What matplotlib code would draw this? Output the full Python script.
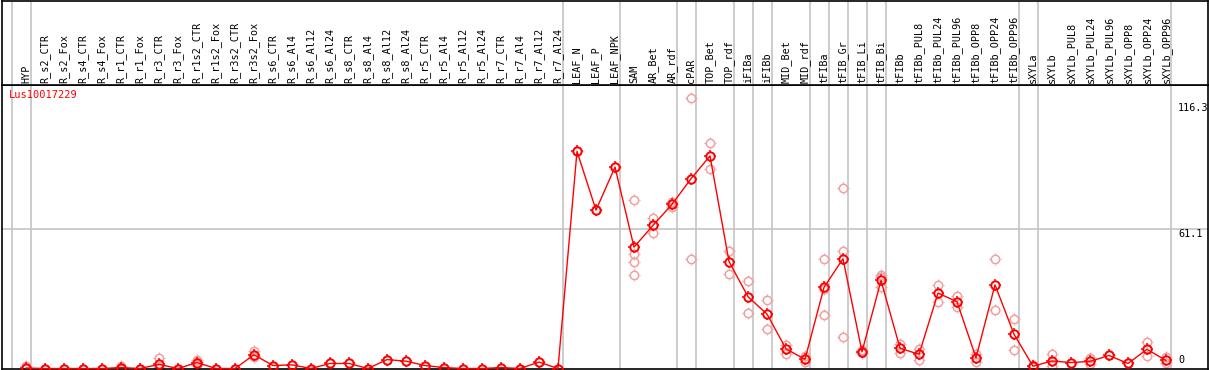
import matplotlib
matplotlib.use("Agg")
import matplotlib.pyplot as plt
from matplotlib.path import Path
from matplotlib.transforms import blended_transform_factory

labels = ["HYP", "R_s2_CTR", "R_s2_Fox", "R_s4_CTR", "R_s4_Fox", "R_r1_CTR", "R_r1_Fox",
          "R_r3_CTR", "R_r3_Fox", "R_r1s2_CTR", "R_r1s2_Fox", "R_r3s2_CTR", "R_r3s2_Fox",
          "R_s6_CTR", "R_s6_Al4", "R_s6_Al12", "R_s6_Al24", "R_s8_CTR", "R_s8_Al4",
          "R_s8_Al12", "R_s8_Al24", "R_r5_CTR", "R_r5_Al4", "R_r5_Al12", "R_r5_Al24",
          "R_r7_CTR", "R_r7_Al4", "R_r7_Al12", "R_r7_Al24", "LEAF_N", "LEAF_P", "LEAF_NPK",
          "SAM", "AR_Bet", "AR_rdf", "cPAR", "TOP_Bet", "TOP_rdf", "iFIBa", "iFIBb",
          "MID_Bet", "MID_rdf", "tFIBa", "tFIB_Gr", "tFIB_Li", "tFIB_Bi", "tFIBb",
          "tFIBb_PUL8", "tFIBb_PUL24", "tFIBb_PUL96", "tFIBb_OPP8", "tFIBb_OPP24",
          "tFIBb_OPP96", "sXYLa", "sXYLb", "sXYLb_PUL8", "sXYLb_PUL24", "sXYLb_PUL96",
          "sXYLb_OPP8", "sXYLb_OPP24", "sXYLb_OPP96"]

means = [0.2, 0, 0, 0, 0, 0.4, 0, 1.8, 0, 2.6, 0, 0, 6.0, 1.3, 1.6, 0, 2.2, 2.2, 0,
         3.9, 3.2, 1.3, 0.4, 0, 0, 0.4, 0, 2.8, 0,
         95.0, 69.3, 88.1, 53.1, 62.6, 71.8, 83.0, 93.0, 46.8, 31.4, 23.8,
         8.6, 4.0, 35.5, 48.0, 7.3, 38.5, 8.9, 6.2, 33.0, 29.2, 4.7, 36.6, 15.0,
         1.0, 3.3, 2.6, 3.1, 5.7, 2.2, 8.4, 3.5]

replicates = [[1.0, 0.0], [0], [0], [0], [0], [0.9, 0.2, 0.0], [0], [4.4, 0.6, 0.3], [0],
              [3.5, 1.4, 2.8], [0], [0], [7.6, 4.9, 5.6], [1.3], [1.6], [0], [2.2], [2.2],
              [0], [3.9], [3.2], [1.3], [0.4], [0], [0], [0.4], [0], [2.8], [0],
              [95.0], [69.3], [88.1], [73.9, 49.9, 46.7, 41.0], [65.9, 59.3, 62.6],
              [73.0, 70.7, 71.8], [118.2, 47.7], [98.8, 87.4], [51.5, 41.5], [38.3, 24.2],
              [30.1, 17.2], [10.1, 6.4], [5.3, 2.8], [48.0, 23.3, 34.9], [78.9, 51.2, 13.9],
              [7.9, 6.6], [40.7, 39.9, 35.5], [10.6, 6.9], [8.6, 3.8], [36.7, 28.9],
              [31.7, 26.7], [6.2, 2.8], [48.0, 25.6], [21.6, 7.9], [1.6, 0.6], [6.4, 1.0],
              [2.6], [4.4, 2.0], [5.7], [2.2], [11.5, 5.3], [5.0, 2.2]]

group_ends = [-1, 0, 28, 31, 34, 35, 37, 38, 39, 41, 42, 43, 44, 45, 52, 53, 60]
ytick_values = [116.3, 61.1]
series_name = "Lus10017229"

W, H = 1209, 370
fig = plt.figure(figsize=(W / 100, H / 100), dpi=100)
fig.patch.set_facecolor("white")

left_px, right_px = 1.5, 1207.5
top_head, head_line, bottom_px = 0.5, 85, 369
x0, dx = 26.0, 19.0
xlim = ((left_px - x0) / dx, (right_px - x0) / dx)
scale = 2.286
zero_px = 368.5
ylim = ((zero_px - bottom_px) / scale, (zero_px - head_line) / scale)

ax = fig.add_axes([left_px / W, (H - bottom_px) / H, (right_px - left_px) / W,
                   (bottom_px - head_line) / H])
hx = fig.add_axes([left_px / W, (H - head_line) / H, (right_px - left_px) / W,
                   (head_line - top_head) / H], sharex=ax)

mono = "DejaVu Sans Mono"
sep_color = "#c4c4c4"

for a in (ax, hx):
    a.set_xticks([])
    a.set_yticks([])
    for s in a.spines.values():
        s.set_color("black")
        s.set_linewidth(1.2)
    for g in group_ends:
        a.axvline(g + 0.25, color=sep_color, lw=1.2, zorder=0)
ax.set_xlim(*xlim)
ax.set_ylim(*ylim)
hx.set_ylim(0, 1)

ax.axhline(ytick_values[1], color=sep_color, lw=1.2, zorder=0)

trh = blended_transform_factory(hx.transData, hx.transAxes)
for i, lab in enumerate(labels):
    hx.text(i, 2.0 / (head_line - top_head), lab, rotation=90, ha="center", va="bottom",
            fontsize=7.3, family=mono, transform=trh)

xr = (1178 - x0) / dx
for v in ytick_values:
    ax.text(xr, v, f"{v}", ha="left", va="top", fontsize=7.3, family=mono)
ax.text(xr, 1.5, "0", ha="left", va="bottom", fontsize=7.3, family=mono)

ax.text(0.006, 0.965, series_name, transform=ax.transAxes, color="red", fontsize=7.5,
        family=mono, ha="left", va="center")

tv = [(0, 1), (0, 1.25), (0, -1), (0, -1.25), (1, 0), (1.25, 0), (-1, 0), (-1.25, 0)]
tc = [Path.MOVETO, Path.LINETO] * 4
ticks = Path(tv, tc)
ms = 6.0


def draw_markers(xs, ys, color, mew, z):
    ax.plot(xs, ys, linestyle="none", marker="o", markersize=ms,
            markerfacecolor="none", markeredgecolor=color, markeredgewidth=mew,
            clip_on=False, zorder=z)
    ax.plot(xs, ys, linestyle="none", marker=ticks, markersize=ms * 1.25 + 0.6,
            markerfacecolor="none", markeredgecolor=color, markeredgewidth=mew * 0.8,
            clip_on=False, zorder=z)


for i, reps in enumerate(replicates):
    draw_markers([i] * len(reps), reps, "#f0a0a0", 1.1, 2)

ax.plot(range(len(means)), means, color="red", lw=1.0, clip_on=False, zorder=3)
draw_markers(list(range(len(means))), means, "red", 1.4, 4)

fig.savefig("out.png", dpi=100, facecolor="white")
